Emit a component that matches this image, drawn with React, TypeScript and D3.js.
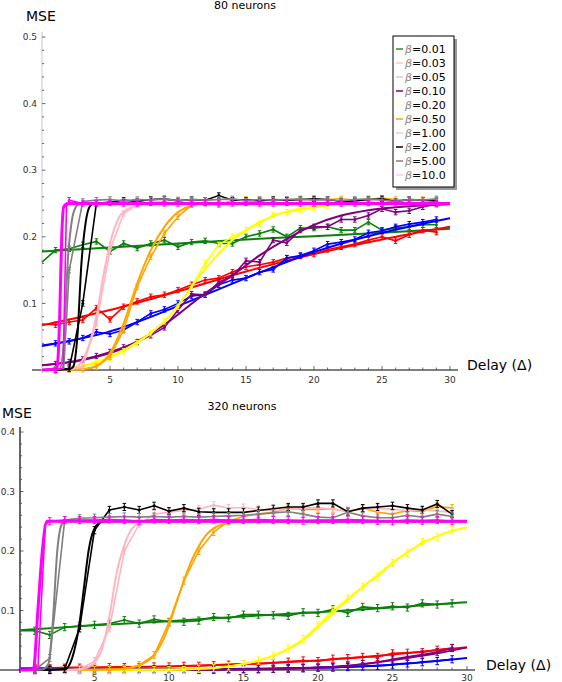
import React from 'react';
import { curveLinear, curveMonotoneX, line, range, scaleLinear } from 'd3';

// Two MSE-vs-delay panels (80 and 320 neurons). Each beta has a simulation
// trace (points + error bars at integer delays) and a smooth theory curve.

type Pt = [number, number];

const DELAYS = [0, 1, 2, 3, 4, 5, 6, 7, 8, 9, 10, 11, 12, 13, 14, 15, 16, 17, 18, 19, 20, 21, 22, 23, 24, 25, 26, 27, 28, 29];
const BETA_LABELS = ['0.01', '0.03', '0.05', '0.10', '0.20', '0.50', '1.00', '2.00', '5.00', '10.0'];
const LINE_COLORS = ['#0b800b', '#ff0000', '#0000ff', '#800080', '#ffff00', '#ffa500', '#ffb6c1', '#000000', '#808080', '#ff00ff'];
const SWATCH_COLORS = ['#2e8b2e', '#ffc8c8', '#c8c8ff', '#800080', '#ffffc8', '#ffa500', '#ffc8c8', '#000000', '#808080', '#ffc8ff'];
const X_TICKS = [5, 10, 15, 20, 25, 30];
const Y_TICKS_80 = [0.1, 0.2, 0.3, 0.4, 0.5];
const Y_TICKS_320 = [0.1, 0.2, 0.3, 0.4];
const ERR_80 = 0.004;
const ERR_320 = 0.006;

// ---- 80 neurons ----
const green80Sim = [0.162, 0.18, 0.182, 0.188, 0.193, 0.178, 0.19, 0.183, 0.19, 0.195, 0.185, 0.192, 0.194, 0.19, 0.19, 0.2, 0.205, 0.211, 0.2, 0.213, 0.213, 0.215, 0.21, 0.21, 0.222, 0.21, 0.213, 0.215, 0.218, 0.218];
const green80Fit: Pt[] = [[0, 0.178], [5, 0.184], [10, 0.19], [15, 0.196], [20, 0.201], [25, 0.206], [30, 0.212]];
const red80Sim = [0.069, 0.068, 0.072, 0.075, 0.093, 0.076, 0.095, 0.103, 0.11, 0.113, 0.12, 0.128, 0.135, 0.138, 0.147, 0.155, 0.158, 0.162, 0.168, 0.171, 0.174, 0.181, 0.185, 0.189, 0.195, 0.2, 0.194, 0.203, 0.21, 0.207];
const red80Fit: Pt[] = [[0, 0.067], [5, 0.09], [10, 0.118], [15, 0.148], [20, 0.174], [25, 0.196], [30, 0.215]];
const blue80Sim = [0.037, 0.04, 0.043, 0.048, 0.057, 0.054, 0.06, 0.072, 0.085, 0.091, 0.1, 0.111, 0.113, 0.128, 0.135, 0.138, 0.147, 0.151, 0.168, 0.172, 0.179, 0.189, 0.192, 0.196, 0.206, 0.209, 0.215, 0.219, 0.222, 0.226];
const blue80Fit: Pt[] = [[0, 0.036], [5, 0.058], [10, 0.096], [15, 0.138], [20, 0.177], [25, 0.206], [30, 0.228]];
const purple80Sim = [0.007, 0.009, 0.012, 0.016, 0.021, 0.027, 0.034, 0.042, 0.052, 0.064, 0.09, 0.114, 0.113, 0.132, 0.141, 0.164, 0.162, 0.195, 0.191, 0.21, 0.215, 0.215, 0.226, 0.226, 0.232, 0.242, 0.237, 0.239, 0.245, 0.249];
const purple80Fit: Pt[] = [[0, 0.007], [3, 0.015], [6, 0.033], [9, 0.068], [12, 0.115], [14, 0.142], [16, 0.172], [18, 0.197], [20, 0.218], [22, 0.232], [24, 0.24], [27, 0.246], [30, 0.249]];
const yellow80Sim = [0, 0.001, 0.002, 0.005, 0.01, 0.018, 0.028, 0.04, 0.055, 0.073, 0.095, 0.125, 0.16, 0.188, 0.2, 0.21, 0.22, 0.233, 0.237, 0.24, 0.244, 0.247, 0.25, 0.251, 0.252, 0.252, 0.253, 0.254, 0.254, 0.255];
const yellow80Fit: Pt[] = [[0, 0], [2, 0.003], [4, 0.012], [6, 0.03], [8, 0.056], [9, 0.073], [10, 0.097], [11, 0.125], [12, 0.152], [13, 0.175], [14, 0.195], [15, 0.21], [16, 0.222], [17, 0.231], [18, 0.238], [20, 0.245], [22, 0.249], [25, 0.25], [30, 0.25]];
const orange80Sim = [0, 0, 0, 0.001, 0.005, 0.02, 0.06, 0.125, 0.17, 0.205, 0.23, 0.248, 0.25, 0.248, 0.255, 0.256, 0.255, 0.254, 0.256, 0.255, 0.254, 0.256, 0.257, 0.255, 0.256, 0.258, 0.256, 0.255, 0.256, 0.255];
const orange80Fit: Pt[] = [[0, 0], [3, 0.001], [4, 0.006], [5, 0.025], [6, 0.07], [7, 0.13], [8, 0.18], [9, 0.215], [10, 0.237], [11, 0.247], [12, 0.25], [30, 0.25]];
const pink80Sim = [0, 0, 0.001, 0.005, 0.07, 0.18, 0.235, 0.248, 0.252, 0.254, 0.256, 0.255, 0.254, 0.256, 0.255, 0.254, 0.256, 0.255, 0.256, 0.255, 0.254, 0.256, 0.255, 0.254, 0.255, 0.256, 0.253, 0.255, 0.254, 0.255];
const pink80Fit: Pt[] = [[0, 0], [2, 0.001], [2.5, 0.004], [3, 0.015], [3.5, 0.04], [4, 0.08], [4.5, 0.14], [5, 0.19], [5.5, 0.222], [6, 0.238], [7, 0.247], [8, 0.25], [30, 0.25]];
const black80Sim = [0, 0, 0.002, 0.1, 0.25, 0.252, 0.255, 0.253, 0.256, 0.257, 0.254, 0.256, 0.255, 0.262, 0.255, 0.255, 0.254, 0.256, 0.255, 0.256, 0.257, 0.256, 0.253, 0.254, 0.256, 0.257, 0.253, 0.256, 0.255, 0.254];
const black80Fit: Pt[] = [[0, 0], [2, 0.001], [2.3, 0.005], [2.6, 0.05], [2.9, 0.16], [3.2, 0.22], [3.5, 0.245], [3.8, 0.25], [30, 0.25]];
const gray80Sim = [0, 0, 0.15, 0.253, 0.255, 0.256, 0.254, 0.256, 0.255, 0.257, 0.254, 0.256, 0.255, 0.256, 0.257, 0.254, 0.256, 0.255, 0.256, 0.257, 0.255, 0.256, 0.254, 0.256, 0.257, 0.255, 0.253, 0.256, 0.255, 0.257];
const gray80Ramp: Pt[] = [[1.6, 0.003]];
const gray80Fit: Pt[] = [[0, 0], [1.3, 0.002], [1.6, 0.04], [1.9, 0.165], [2.2, 0.225], [2.5, 0.245], [2.8, 0.25], [30, 0.25]];
const magenta80Sim = [0, 0, 0.255, 0.25, 0.25, 0.251, 0.25, 0.25, 0.251, 0.25, 0.25, 0.25, 0.251, 0.25, 0.25, 0.251, 0.25, 0.25, 0.251, 0.25, 0.25, 0.251, 0.25, 0.25, 0.251, 0.25, 0.25, 0.251, 0.25, 0.25];
const magenta80Ramp: Pt[] = [[1.55, 0.003], [1.8, 0.245]];
const magenta80Fit: Pt[] = [[0, 0], [1.1, 0.002], [1.3, 0.08], [1.45, 0.2], [1.6, 0.245], [1.9, 0.25], [30, 0.25]];

// ---- 320 neurons ----
const green320Sim = [0.066, 0.066, 0.059, 0.072, 0.074, 0.076, 0.078, 0.084, 0.078, 0.085, 0.081, 0.081, 0.083, 0.089, 0.087, 0.093, 0.093, 0.092, 0.091, 0.097, 0.096, 0.102, 0.096, 0.106, 0.104, 0.107, 0.105, 0.112, 0.11, 0.112];
const green320Fit: Pt[] = [[0, 0.067], [5, 0.075], [10, 0.082], [15, 0.09], [20, 0.097], [25, 0.105], [30, 0.114]];
const red320Sim = [0.003, 0.003, 0.003, 0.004, 0.004, 0.004, 0.005, 0.005, 0.005, 0.006, 0.006, 0.007, 0.007, 0.008, 0.009, 0.01, 0.01, 0.012, 0.014, 0.016, 0.015, 0.019, 0.02, 0.022, 0.022, 0.028, 0.029, 0.03, 0.034, 0.037];
const red320Fit: Pt[] = [[0, 0.003], [5, 0.004], [10, 0.006], [15, 0.01], [20, 0.016], [25, 0.026], [30, 0.038]];
const blue320Sim = [0.001, 0.001, 0.001, 0.001, 0.001, 0.001, 0.001, 0.001, 0.001, 0.001, 0.001, 0.001, 0.001, 0.002, 0.002, 0.002, 0.002, 0.002, 0.003, 0.003, 0.004, 0.004, 0.005, 0.006, 0.007, 0.009, 0.011, 0.013, 0.015, 0.018];
const blue320Fit: Pt[] = [[0, 0.001], [10, 0.001], [15, 0.002], [20, 0.004], [25, 0.009], [30, 0.02]];
const purple320Sim = [0, 0, 0, 0, 0, 0, 0, 0, 0, 0, 0, 0, 0, 0, 0.001, 0.001, 0.001, 0.002, 0.002, 0.003, 0.004, 0.005, 0.007, 0.01, 0.013, 0.018, 0.022, 0.026, 0.03, 0.037];
const purple320Fit: Pt[] = [[0, 0], [15, 0.001], [18, 0.002], [20, 0.004], [22, 0.007], [24, 0.013], [26, 0.02], [28, 0.028], [30, 0.038]];
const yellow320Sim = [0, 0, 0, 0, 0, 0, 0, 0, 0, 0, 0, 0, 0.002, 0.003, 0.006, 0.01, 0.016, 0.024, 0.036, 0.052, 0.075, 0.1, 0.12, 0.14, 0.157, 0.18, 0.197, 0.215, 0.224, 0.235];
const yellow320Fit: Pt[] = [[0, 0], [10, 0.001], [12, 0.002], [14, 0.006], [15, 0.01], [16, 0.016], [17, 0.024], [18, 0.035], [19, 0.05], [20, 0.072], [21, 0.095], [22, 0.118], [23, 0.14], [24, 0.16], [25, 0.18], [26, 0.198], [27, 0.213], [28, 0.225], [29, 0.234], [30, 0.24]];
const orange320Sim = [0, 0, 0, 0, 0, 0, 0.001, 0.002, 0.008, 0.025, 0.08, 0.15, 0.2, 0.232, 0.25, 0.258, 0.262, 0.265, 0.272, 0.27, 0.27, 0.271, 0.266, 0.272, 0.265, 0.262, 0.268, 0.266, 0.275, 0.272];
const orange320Fit: Pt[] = [[0, 0], [6, 0.001], [7, 0.002], [8, 0.008], [9, 0.025], [9.5, 0.045], [10, 0.075], [10.5, 0.113], [11, 0.15], [11.5, 0.183], [12, 0.208], [12.5, 0.227], [13, 0.238], [14, 0.247], [15, 0.25], [30, 0.25]];
const pink320Sim = [0, 0, 0, 0, 0.001, 0.015, 0.07, 0.2, 0.245, 0.262, 0.265, 0.268, 0.27, 0.277, 0.272, 0.273, 0.27, 0.268, 0.27, 0.272, 0.273, 0.27, 0.268, 0.27, 0.272, 0.27, 0.268, 0.27, 0.267, 0.265];
const pink320Fit: Pt[] = [[0, 0], [4, 0.001], [4.5, 0.004], [5, 0.012], [5.5, 0.035], [6, 0.09], [6.5, 0.165], [7, 0.21], [7.5, 0.237], [8, 0.247], [8.5, 0.25], [30, 0.25]];
const black320Sim = [0, 0, 0, 0.002, 0.07, 0.235, 0.269, 0.274, 0.269, 0.276, 0.267, 0.272, 0.266, 0.265, 0.265, 0.265, 0.268, 0.271, 0.274, 0.274, 0.28, 0.28, 0.266, 0.272, 0.274, 0.276, 0.272, 0.269, 0.279, 0.262];
const black320Fit: Pt[] = [[0, 0], [3, 0.001], [3.5, 0.02], [4, 0.08], [4.3, 0.14], [4.6, 0.2], [5, 0.238], [5.5, 0.249], [6, 0.25], [30, 0.25]];
const gray320Sim = [0, 0, 0.02, 0.252, 0.255, 0.256, 0.257, 0.258, 0.257, 0.258, 0.257, 0.258, 0.257, 0.258, 0.259, 0.26, 0.262, 0.264, 0.266, 0.262, 0.257, 0.256, 0.265, 0.259, 0.256, 0.256, 0.26, 0.257, 0.262, 0.258];
const gray320Fit: Pt[] = [[0, 0], [1.5, 0.001], [1.9, 0.01], [2.2, 0.08], [2.5, 0.2], [2.8, 0.245], [3, 0.25], [30, 0.25]];
const magenta320Sim = [0, 0, 0.25, 0.252, 0.252, 0.252, 0.253, 0.252, 0.25, 0.253, 0.252, 0.253, 0.252, 0.253, 0.252, 0.252, 0.253, 0.252, 0.252, 0.251, 0.252, 0.252, 0.253, 0.252, 0.251, 0.25, 0.252, 0.251, 0.252, 0.25];
const magenta320Ramp: Pt[] = [[1.2, 0.002], [1.7, 0.245]];
const magenta320Fit: Pt[] = [[0, 0], [0.9, 0.001], [1.2, 0.1], [1.5, 0.2], [1.8, 0.25], [30, 0.25]];

interface Series {
  sim: number[];
  ramp?: Pt[];
  fit: Pt[];
}

const SERIES_80: Series[] = [
  { sim: green80Sim, fit: green80Fit },
  { sim: red80Sim, fit: red80Fit },
  { sim: blue80Sim, fit: blue80Fit },
  { sim: purple80Sim, fit: purple80Fit },
  { sim: yellow80Sim, fit: yellow80Fit },
  { sim: orange80Sim, fit: orange80Fit },
  { sim: pink80Sim, fit: pink80Fit },
  { sim: black80Sim, fit: black80Fit },
  { sim: gray80Sim, ramp: gray80Ramp, fit: gray80Fit },
  { sim: magenta80Sim, ramp: magenta80Ramp, fit: magenta80Fit },
];

const SERIES_320: Series[] = [
  { sim: green320Sim, fit: green320Fit },
  { sim: red320Sim, fit: red320Fit },
  { sim: blue320Sim, fit: blue320Fit },
  { sim: purple320Sim, fit: purple320Fit },
  { sim: yellow320Sim, fit: yellow320Fit },
  { sim: orange320Sim, fit: orange320Fit },
  { sim: pink320Sim, fit: pink320Fit },
  { sim: black320Sim, fit: black320Fit },
  { sim: gray320Sim, fit: gray320Fit },
  { sim: magenta320Sim, ramp: magenta320Ramp, fit: magenta320Fit },
];

const FONT = 'DejaVu Sans, sans-serif';

function Panel({
  series,
  xRange,
  yTop,
  yBottom,
  yMax,
  yTicks,
  err,
  axisColor,
  xAxisFrom,
  xAxisTo,
  yAxisTop,
  tickLabelGap,
  labelX,
  labelBaseline,
}: {
  series: Series[];
  xRange: [number, number];
  yTop: number;
  yBottom: number;
  yMax: number;
  yTicks: number[];
  err: number;
  axisColor: string;
  xAxisFrom: number;
  xAxisTo: number;
  yAxisTop: number;
  tickLabelGap: number;
  labelX: number;
  labelBaseline: number;
}) {
  const x = scaleLinear().domain([0, 30]).range(xRange);
  const y = scaleLinear().domain([0, yMax]).range([yBottom, yTop]);
  const fitLine = line<Pt>().x((d) => x(d[0])).y((d) => y(d[1])).curve(curveMonotoneX);
  const simLine = line<Pt>().x((d) => x(d[0])).y((d) => y(d[1])).curve(curveLinear);
  const x0 = x(0);
  const minorY = range(0, Math.round(yMax / 0.02) + 1).map((i) => i * 0.02);
  const minorX = range(1, 31);

  return (
    <g>
      {/* axes */}
      <line x1={xAxisFrom} x2={xAxisTo} y1={yBottom} y2={yBottom} stroke="#000" strokeWidth={1.2} />
      <line x1={x0} x2={x0} y1={yBottom + 3} y2={yAxisTop} stroke={axisColor} strokeWidth={1.2} />
      {minorY.map((t) => {
        const major = yTicks.some((m) => Math.abs(m - t) < 1e-6);
        return <line key={t} x1={x0} x2={x0 + (major ? 3.5 : 2)} y1={y(t)} y2={y(t)} stroke="#444" strokeWidth={0.8} />;
      })}
      {yTicks.map((t) => (
        <text key={t} x={x0 - 5} y={y(t)} dy="0.35em" textAnchor="end" fontSize={9} fill="#333" fontFamily={FONT}>
          {t.toFixed(1)}
        </text>
      ))}
      {minorX.map((t) => {
        const major = X_TICKS.includes(t);
        return <line key={t} x1={x(t)} x2={x(t)} y1={yBottom} y2={yBottom - (major ? 4 : 2.5)} stroke="#444" strokeWidth={0.8} />;
      })}
      {X_TICKS.map((t) => (
        <text key={t} x={x(t)} y={yBottom + tickLabelGap} textAnchor="middle" fontSize={9} fill="#333" fontFamily={FONT}>
          {t}
        </text>
      ))}
      <text x={labelX} y={labelBaseline} fontSize={14} fill="#000" fontFamily={FONT}>
        Delay (Δ)
      </text>

      {/* curves */}
      {series.map((s, i) => {
        const color = LINE_COLORS[i]!;
        const pts: Pt[] = DELAYS.map((d, k) => [d, s.sim[k]!] as Pt)
          .concat(s.ramp ?? [])
          .sort((a, b) => a[0] - b[0]);
        const marks = DELAYS.map((d, k) => [d, s.sim[k]!] as Pt).filter((p) => p[0] >= 1);
        const wide = i === 9 ? 3 : 2;
        return (
          <g key={i}>
            <path d={fitLine(s.fit) ?? undefined} fill="none" stroke={color} strokeWidth={wide} />
            <path d={simLine(pts) ?? undefined} fill="none" stroke={color} strokeWidth={1.6} />
            {marks.map((p, k) => (
              <g key={k}>
                <line x1={x(p[0])} x2={x(p[0])} y1={y(p[1] - err)} y2={y(p[1] + err)} stroke={color} strokeWidth={1} />
                <line x1={x(p[0]) - 1.8} x2={x(p[0]) + 1.8} y1={y(p[1] + err)} y2={y(p[1] + err)} stroke={color} strokeWidth={1} />
                <line x1={x(p[0]) - 1.8} x2={x(p[0]) + 1.8} y1={y(p[1] - err)} y2={y(p[1] - err)} stroke={color} strokeWidth={1} />
                <circle cx={x(p[0])} cy={y(p[1])} r={1.5} fill={color} />
              </g>
            ))}
          </g>
        );
      })}
    </g>
  );
}

function Legend({ left, top }: { left: number; top: number }) {
  const w = 61;
  const h = 151;
  return (
    <g>
      <rect x={left + 3} y={top + 3} width={w} height={h} fill="#999" />
      <rect x={left} y={top} width={w} height={h} fill="#fff" stroke="#000" strokeWidth={1} />
      {BETA_LABELS.map((b, i) => {
        const cy = top + 13 + i * 14;
        return (
          <g key={b}>
            <line x1={left + 3} x2={left + 10} y1={cy} y2={cy} stroke={SWATCH_COLORS[i]} strokeWidth={1.5} />
            <text x={left + 12} y={cy} dy="0.35em" fontSize={11} fill="#000" fontFamily={FONT}>
              <tspan fontStyle="italic" fill="#888">β</tspan>=
              {b}
            </text>
          </g>
        );
      })}
    </g>
  );
}

export default function App() {
  return (
    <svg width={562} height={682} viewBox="0 0 562 682" style={{ position: 'absolute', left: 0, top: 0, background: '#fff' }}>
      <rect x={0} y={0} width={562} height={682} fill="#fff" />
      <text x={26} y={21} fontSize={14} fontFamily={FONT} fill="#000">MSE</text>
      <text x={245} y={9} textAnchor="middle" fontSize={11} fontFamily={FONT} fill="#000">80 neurons</text>
      <Panel
        series={SERIES_80}
        xRange={[42, 450]}
        yTop={37}
        yBottom={370}
        yMax={0.5}
        yTicks={Y_TICKS_80}
        err={ERR_80}
        axisColor="#d0d0d0"
        xAxisFrom={32}
        xAxisTo={458}
        yAxisTop={32}
        tickLabelGap={13}
        labelX={467}
        labelBaseline={370}
      />
      <Legend left={393} top={36} />

      <text x={2} y={418} fontSize={14} fontFamily={FONT} fill="#000">MSE</text>
      <text x={242} y={410} textAnchor="middle" fontSize={11} fontFamily={FONT} fill="#000">320 neurons</text>
      <Panel
        series={SERIES_320}
        xRange={[20, 467]}
        yTop={432}
        yBottom={670}
        yMax={0.4}
        yTicks={Y_TICKS_320}
        err={ERR_320}
        axisColor="#000"
        xAxisFrom={0}
        xAxisTo={475}
        yAxisTop={427}
        tickLabelGap={10.5}
        labelX={486}
        labelBaseline={670}
      />
    </svg>
  );
}
